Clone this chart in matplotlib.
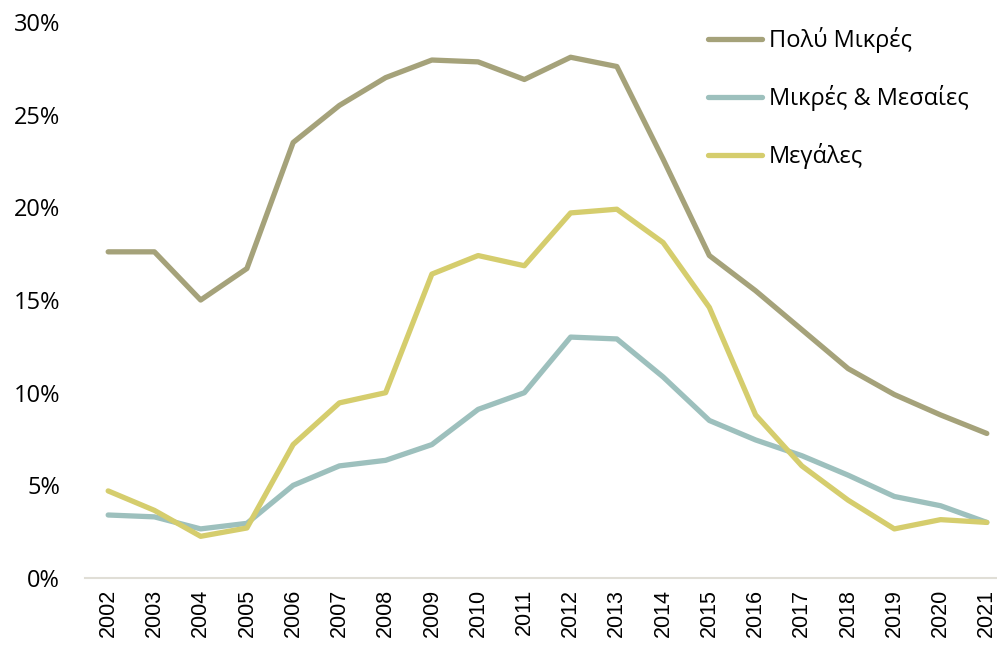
import numpy as np
import matplotlib.pyplot as plt
from matplotlib.ticker import FuncFormatter

years = [str(y) for y in range(2002, 2022)]

# % share per size class
very_small = [17.6, 17.6, 15.0, 16.7, 23.5, 25.5, 27.0, 27.95, 27.85, 26.9,
              28.1, 27.6, 22.6, 17.4, 15.5, 13.4, 11.3, 9.9, 8.8, 7.8]
small_medium = [3.4, 3.3, 2.65, 2.95, 5.0, 6.05, 6.35, 7.2, 9.1, 10.0,
                13.0, 12.9, 10.85, 8.5, 7.45, 6.6, 5.55, 4.4, 3.9, 3.0]
large = [4.7, 3.65, 2.25, 2.7, 7.2, 9.45, 10.0, 16.4, 17.4, 16.85,
         19.7, 19.9, 18.1, 14.6, 8.8, 6.05, 4.2, 2.65, 3.15, 3.0]

labels = ['Πολύ Μικρές', 'Μικρές & Μεσαίες', 'Μεγάλες']
colors = ['#A5A27A', '#9DC0BD', '#D5CD6D']

fig = plt.figure(figsize=(9.97, 6.48), dpi=100)
ax = fig.add_axes([0.0853, 0.108, 0.9147, 0.858])

x = np.arange(len(years))
for vals, lab, col in zip([very_small, small_medium, large], labels, colors):
    ax.plot(x, vals, color=col, linewidth=3.8, label=lab,
            solid_capstyle='round', clip_on=False)

ax.set_xlim(-0.5, 19.22)
ax.set_ylim(0, 30)
ax.set_yticks(np.arange(0, 31, 5))
ax.yaxis.set_major_formatter(FuncFormatter(lambda v, p: f'{v:.0f}%'))
ax.set_xticks(x)
ax.set_xticklabels(years, rotation=90, fontsize=15.5, family='Liberation Sans')
for t in ax.get_yticklabels():
    t.set_family('Open Sans')
    t.set_fontsize(17)

for s in ['top', 'right', 'left']:
    ax.spines[s].set_visible(False)
ax.spines['bottom'].set_color('#E0DED6')
ax.spines['bottom'].set_linewidth(1.5)
ax.tick_params(axis='both', length=0)
ax.tick_params(axis='y', pad=18)
ax.tick_params(axis='x', pad=8)

leg = fig.legend(loc='upper left', bbox_to_anchor=(708 / 997, 1 - 27 / 648),
                 frameon=False, borderaxespad=0, borderpad=0,
                 prop={'family': 'Open Sans', 'size': 17},
                 handlelength=2.3, handletextpad=0.27, labelspacing=1.36)

fig.savefig('out.png', dpi=100)
